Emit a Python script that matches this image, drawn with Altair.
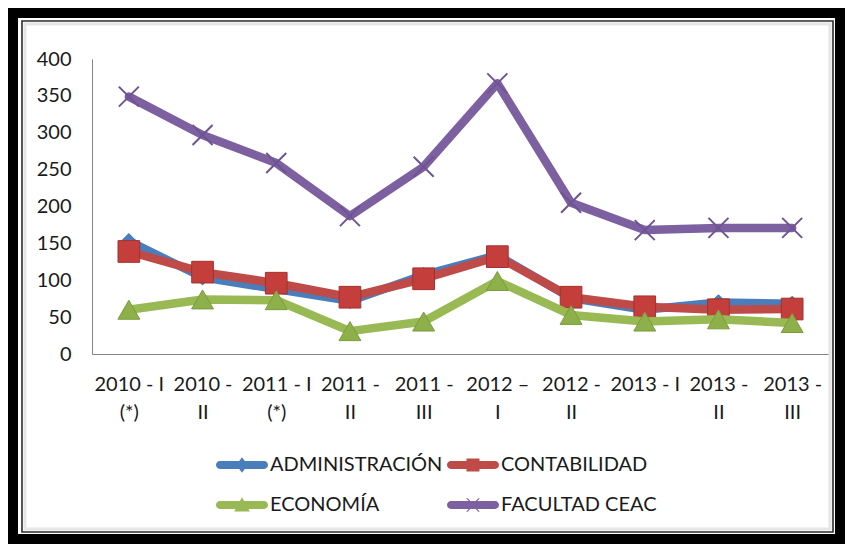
import altair as alt
import pandas as pd

categories = [
    "2010 - I\n(*)", "2010 -\nII", "2011 - I\n(*)", "2011 -\nII", "2011 -\nIII",
    "2012 –\nI", "2012 -\nII", "2013 - I", "2013 -\nII", "2013 -\nIII",
]
series_names = ["ADMINISTRACIÓN", "CONTABILIDAD", "ECONOMÍA", "FACULTAD CEAC"]
admin = [153, 104, 88, 72, 107, 134, 76, 60, 70, 68]
contab = [139, 111, 96, 77, 102, 132, 77, 64, 60, 61]
econ = [60, 74, 73, 31, 44, 99, 53, 44, 47, 42]
facultad = [349, 297, 259, 187, 254, 367, 205, 168, 171, 171]
y_ticks = [0, 50, 100, 150, 200, 250, 300, 350, 400]

line_colors = ["#4A7EBB", "#BE4B48", "#98B954", "#7D60A0"]

rows = []
for s, vals in zip(series_names, [admin, contab, econ, facultad]):
    for c, v in zip(categories, vals):
        rows.append({"periodo": c, "serie": s, "valor": v})
df = pd.DataFrame(rows)
frame_df = pd.DataFrame({"k": [0]})

W, H = 737, 295
FONT = "Lato"
FS = 20
TXT = "#1a1a1a"

x_enc = alt.X(
    "periodo:N", sort=categories,
    scale=alt.Scale(type="point", padding=0.5),
    axis=alt.Axis(title=None, labelExpr="split(datum.label, '\\n')", labelAngle=0,
                  ticks=False, labelFont=FONT, labelFontSize=FS, labelColor=TXT,
                  labelPadding=20, labelLineHeight=28, domainColor="#868686",
                  labelAlign="center"),
)
y_enc = alt.Y(
    "valor:Q", scale=alt.Scale(domain=[0, 400], nice=False),
    axis=alt.Axis(title=None, values=y_ticks, grid=False, ticks=False, labelPadding=21,
                  labelFont=FONT, labelFontSize=FS, labelColor=TXT, domainColor="#868686"),
)
color_scale = alt.Scale(domain=series_names, range=line_colors)


def frame_rect(x, x2, y, y2, color, sw):
    return alt.Chart(frame_df).mark_rect(fillOpacity=0, stroke=color, strokeWidth=sw).encode(
        x=alt.value(x), x2=alt.value(x2), y=alt.value(y), y2=alt.value(y2))


frames = [
    frame_rect(-79, 748, -46, 480, "black", 10),
    frame_rect(-70, 741, -38, 473, "#2b2b2b", 1.6),
    frame_rect(-67, 738, -35, 470, "#e6e6e6", 3),
]

marker_props = {
    "ADMINISTRACIÓN": dict(shape="diamond", size=230, filled=True, fill="#4A7EBB", stroke="#3B6CA8", strokeWidth=1),
    "CONTABILIDAD": dict(shape="square", size=470, filled=True, fill="#C43F3C", stroke="#A5302D", strokeWidth=1),
    "ECONOMÍA": dict(shape="triangle-up", size=480, filled=True, fill="#8DB04A", stroke="#7A9C3C", strokeWidth=1),
    "FACULTAD CEAC": dict(shape="M-1,-1L1,1M-1,1L1,-1", size=400, filled=False, stroke="#6E5494", strokeWidth=2),
}

series_layers = []
for s in series_names:
    base = alt.Chart(df).transform_filter(alt.datum.serie == s)
    line = base.mark_line(strokeWidth=8.5, strokeJoin="round", strokeCap="round").encode(
        x=x_enc, y=y_enc, color=alt.Color("serie:N", scale=color_scale, legend=None))
    pts = base.mark_point(opacity=1, **marker_props[s]).encode(x=x_enc, y=y_enc)
    series_layers += [line, pts]

bar = "M-0.85,-0.15 L0.85,-0.15 A0.15,0.15 0 0 1 0.85,0.15 L-0.85,0.15 A0.15,0.15 0 0 1 -0.85,-0.15 Z "
legend_paths = [
    bar + "M0,-0.3 L0.22,0 L0,0.3 L-0.22,0 Z",
    bar + "M-0.25,-0.25 L0.25,-0.25 L0.25,0.25 L-0.25,0.25 Z",
    bar + "M0,-0.3 L0.3,0.25 L-0.3,0.25 Z",
    bar + "M-0.26,-0.26 L-0.2,-0.26 L0.26,0.26 L0.2,0.26 Z M0.2,-0.26 L0.26,-0.26 L-0.2,0.26 L-0.26,0.26 Z",
]

leg = alt.Legend(title=None, orient="none", legendX=124, legendY=380, columns=2,
                 direction="horizontal", labelLimit=400,
                 symbolSize=2704, symbolStrokeWidth=0, labelFont=FONT, labelFontSize=FS,
                 labelColor=TXT, labelOffset=2, columnPadding=4, rowPadding=4)

legend_layer = alt.Chart(df).mark_point(filled=True, opacity=1, size=0).encode(
    x=x_enc, y=y_enc,
    fill=alt.Fill("serie:N", scale=alt.Scale(domain=series_names, range=line_colors), legend=leg),
    shape=alt.Shape("serie:N", scale=alt.Scale(domain=series_names, range=legend_paths), legend=leg),
)

chart = alt.layer(*frames, legend_layer, *series_layers).properties(
    width=W, height=H,
    autosize=alt.AutoSizeParams(type="none"),
    padding={"left": 84, "top": 51, "right": 16, "bottom": 190},
    background="white",
).configure_view(strokeWidth=0)

chart.save("out.html", embed_options={"renderer": "svg", "actions": False})
